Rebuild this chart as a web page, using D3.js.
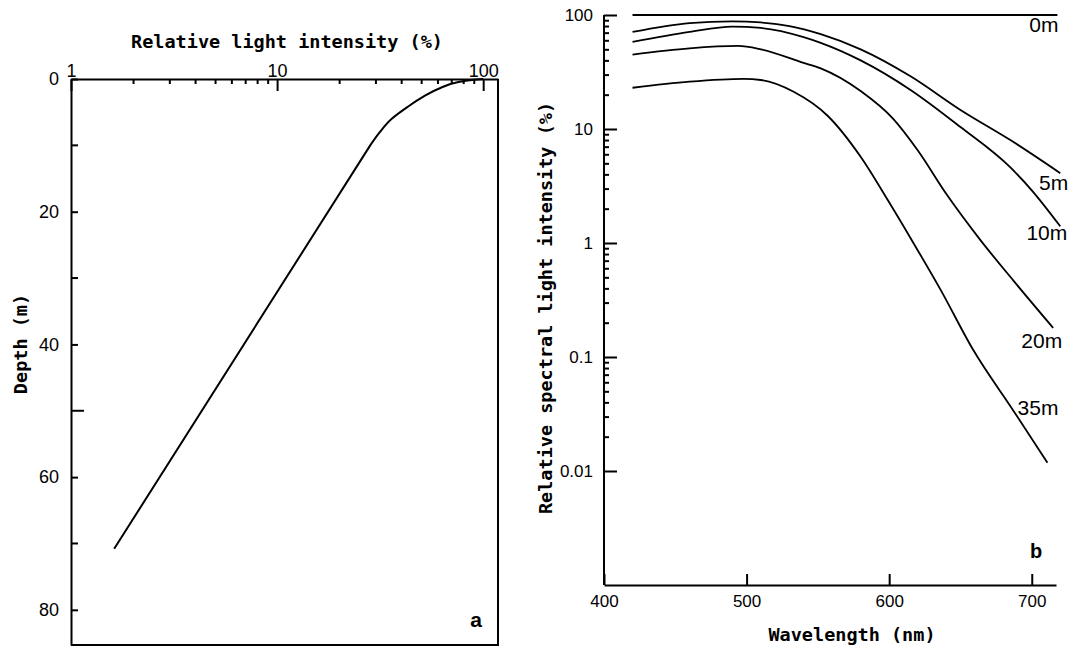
<!DOCTYPE html>
<html>
<head>
<meta charset="utf-8">
<script src="https://cdn.jsdelivr.net/npm/d3@7"></script>
<style>
  body { margin: 0; background: #fff; }
  svg { display: block; }
</style>
</head>
<body>
<svg width="1077" height="649"></svg>
<script>
// ---- panel a: light intensity against depth
// curved near the surface, then a straight run down to the last point
var profileIntensity = [100, 88, 75, 62, 51, 43, 36, 31.5, 28.3, 1.62];
var profileDepth     = [0, 0.15, 0.5, 1.35, 2.7, 4.2, 6.0, 8.0, 10, 70.8];
var intensityTicks = [1, 10, 100];
var depthTicks = [0, 20, 40, 60, 80];
var depthMinorTicks = [10, 30, 50, 70];

// ---- panel b: spectral light at several depths
var seriesNames = ["0m", "5m", "10m", "20m", "35m"];
var wl0   = [420, 718];
var spec0 = [100, 100];
var wl5   = [420, 460, 490, 510, 530, 552, 580, 615, 650, 685, 720];
var spec5 = [71, 85, 88, 86, 80, 68, 50, 29, 14.7, 8.0, 4.1];
var wl10   = [420, 460, 490, 510, 540, 552, 580, 615, 650, 685, 700, 720];
var spec10 = [58, 71, 79, 77, 64, 57, 40, 22, 10.4, 4.6, 2.9, 1.4];
var wl20   = [420, 460, 494, 510, 540, 552, 580, 603, 620, 640, 664, 687, 715];
var spec20 = [45, 51, 53.5, 50, 38, 34, 21.5, 12.2, 6.5, 2.7, 1.06, 0.47, 0.18];
var wl35   = [420, 460, 498, 510, 533, 557, 580, 599, 617, 636, 659, 687, 711];
var spec35 = [23, 26, 27.5, 26.9, 21.2, 13, 5.7, 2.38, 1.0, 0.39, 0.115, 0.034, 0.0118];
var wavelengthTicks = [400, 500, 600, 700];
var spectralTicks = [0.01, 0.1, 1, 10, 100];
var spectralTickLabels = ["0.01", "0.1", "1", "10", "100"];

var svg = d3.select("svg");
var tickFont = "'Liberation Sans', Arial, sans-serif";
var titleFont = "'DejaVu Sans Mono', monospace";

function styleAxis(g, size) {
  g.attr("font-family", tickFont).attr("font-size", size);
  g.selectAll("path, line").attr("stroke", "#000").attr("stroke-width", 2);
  g.selectAll("text").attr("fill", "#000");
}

// ================= panel a =================
var xa = d3.scaleLog().domain([1, 118]).range([71, 498]);
var ya = d3.scaleLinear().domain([0, 85.3]).range([79, 645]);

var topAxis = svg.append("g")
    .attr("transform", "translate(0," + ya(0) + ")")
    .call(d3.axisTop(xa).tickValues(intensityTicks)
      .tickFormat(d3.format("d")).tickSizeInner(-12).tickSizeOuter(0).tickPadding(2));
styleAxis(topAxis, 18);

var minorA = [];
[1, 10].forEach(function(e) { d3.range(2, 10).forEach(function(k) { minorA.push(k * e); }); });
var topMinor = svg.append("g")
    .attr("transform", "translate(0," + ya(0) + ")")
    .call(d3.axisTop(xa).tickValues(minorA).tickFormat("").tickSize(-5));
styleAxis(topMinor, 18);
topMinor.select(".domain").remove();

var leftAxis = svg.append("g")
    .attr("transform", "translate(" + xa(1) + ",0)")
    .call(d3.axisLeft(ya).tickValues(depthTicks).tickSizeInner(-7).tickSizeOuter(0).tickPadding(12));
styleAxis(leftAxis, 18);

var leftMinor = svg.append("g")
    .attr("transform", "translate(" + xa(1) + ",0)");
leftMinor.selectAll("line")
    .data(depthMinorTicks)
  .enter().append("line")
    .attr("x1", 0)
    .attr("x2", function(d) { return d === 50 ? 13 : 7; })
    .attr("y1", function(d) { return ya(d); })
    .attr("y2", function(d) { return ya(d); })
    .attr("stroke", "#000")
    .attr("stroke-width", 2);

// right and bottom frame
svg.append("path")
    .attr("d", "M" + xa.range()[1] + "," + ya.range()[0] +
               "V" + ya.range()[1] + "H" + xa.range()[0])
    .attr("fill", "none")
    .attr("stroke", "#000")
    .attr("stroke-width", 2);

var profile = profileDepth.map(function(d, i) { return [profileIntensity[i], d]; });
var bend = profile.length - 2;

var profileLine = d3.line()
    .x(function(d) { return xa(d[0]); })
    .y(function(d) { return ya(d[1]); });

svg.append("path")
    .attr("fill", "none")
    .attr("stroke", "#000")
    .attr("stroke-width", 2)
    .attr("stroke-linejoin", "round")
    .attr("d", profileLine.curve(d3.curveMonotoneY)(profile.slice(0, bend + 1)) +
               profileLine.curve(d3.curveLinear)(profile.slice(bend)).replace(/^M/, "L"));

svg.append("text")
    .attr("x", 287).attr("y", 48)
    .attr("text-anchor", "middle")
    .attr("font-family", titleFont).attr("font-weight", "bold").attr("font-size", 18.5)
    .text("Relative light intensity (%)");

svg.append("text")
    .attr("transform", "translate(27,344) rotate(-90)")
    .attr("text-anchor", "middle")
    .attr("font-family", titleFont).attr("font-weight", "bold").attr("font-size", 18.5)
    .text("Depth (m)");

svg.append("text")
    .attr("x", 476).attr("y", 627)
    .attr("text-anchor", "middle")
    .attr("font-family", tickFont).attr("font-weight", "bold").attr("font-size", 21)
    .text("a");

// ================= panel b =================
var xb = d3.scaleLinear().domain([400, 717]).range([604, 1056]);
var yb = d3.scaleLog().domain([0.001, 100]).range([585, 15]);

var bottomAxis = svg.append("g")
    .attr("transform", "translate(0," + yb(0.001) + ")")
    .call(d3.axisBottom(xb).tickValues(wavelengthTicks)
      .tickSizeInner(-11).tickSizeOuter(0).tickPadding(10));
styleAxis(bottomAxis, 17);

var specAxis = svg.append("g")
    .attr("transform", "translate(" + xb(400) + ",0)")
    .call(d3.axisLeft(yb).tickValues(spectralTicks)
      .tickFormat(function(d, i) { return spectralTickLabels[i]; })
      .tickSizeInner(-13).tickSizeOuter(0).tickPadding(11));
styleAxis(specAxis, 17);
specAxis.select(".domain").attr("d", "M0," + yb.range()[0] + "V" + yb.range()[1]);

var minorB = [];
[0.01, 0.1, 1, 10].forEach(function(e) { d3.range(2, 10).forEach(function(k) { minorB.push(k * e); }); });
var specMinor = svg.append("g")
    .attr("transform", "translate(" + xb(400) + ",0)")
    .call(d3.axisLeft(yb).tickValues(minorB).tickFormat("").tickSize(-5));
styleAxis(specMinor, 17);
specMinor.select(".domain").remove();

var spectra = [[wl0, spec0], [wl5, spec5], [wl10, spec10], [wl20, spec20], [wl35, spec35]]
  .map(function(s, i) {
    return { name: seriesNames[i], points: s[0].map(function(w, j) { return [w, s[1][j]]; }) };
  });

var specLine = d3.line()
    .x(function(d) { return xb(d[0]); })
    .y(function(d) { return yb(d[1]); })
    .curve(d3.curveMonotoneX);

svg.append("g").selectAll("path")
    .data(spectra)
  .enter().append("path")
    .attr("fill", "none")
    .attr("stroke", "#000")
    .attr("stroke-width", 1.8)
    .attr("d", function(d) { return specLine(d.points); });

// label offsets from each curve's end, in pixels
var labelOffset = { "0m": [1, 17], "5m": [8, 17], "10m": [7, 14], "20m": [9, 20], "35m": [11, -48] };

svg.append("g").selectAll("text")
    .data(spectra)
  .enter().append("text")
    .attr("x", function(d) { return xb(d.points[d.points.length - 1][0]) + labelOffset[d.name][0]; })
    .attr("y", function(d) { return yb(d.points[d.points.length - 1][1]) + labelOffset[d.name][1]; })
    .attr("text-anchor", "end")
    .attr("font-family", tickFont).attr("font-size", 21)
    .text(function(d) { return d.name; });

svg.append("text")
    .attr("x", 852).attr("y", 641)
    .attr("text-anchor", "middle")
    .attr("font-family", titleFont).attr("font-weight", "bold").attr("font-size", 18.5)
    .text("Wavelength (nm)");

svg.append("text")
    .attr("transform", "translate(552,308) rotate(-90)")
    .attr("text-anchor", "middle")
    .attr("font-family", titleFont).attr("font-weight", "bold").attr("font-size", 18.5)
    .text("Relative spectral light intensity (%)");

svg.append("text")
    .attr("x", 1036).attr("y", 558)
    .attr("text-anchor", "middle")
    .attr("font-family", tickFont).attr("font-weight", "bold").attr("font-size", 20)
    .text("b");
</script>
</body>
</html>
